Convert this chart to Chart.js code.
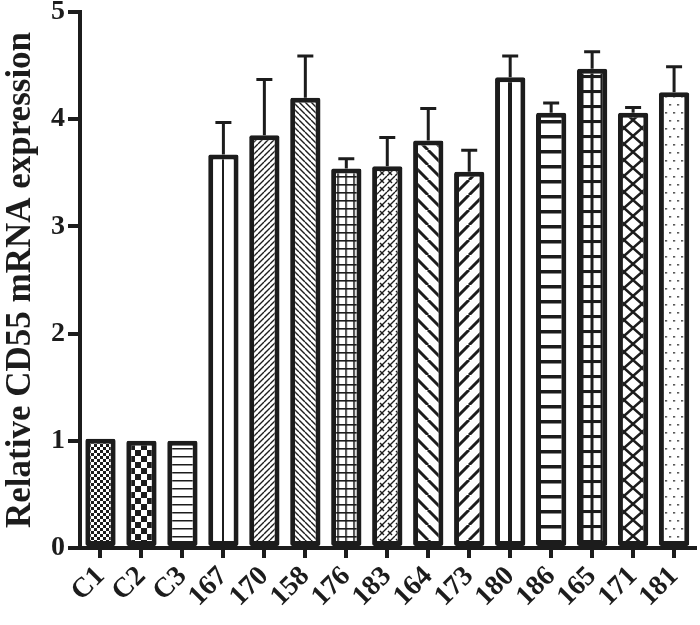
<!DOCTYPE html>
<html lang="en">
<head>
  <meta charset="UTF-8">
  <title>Relative CD55 mRNA expression</title>
  <script src="https://cdn.jsdelivr.net/npm/chart.js"></script>
  <style>
    body { margin: 0; background: #fff; }
    #wrap { width: 700px; height: 625px; }
  </style>
</head>
<body>
  <div id="wrap"><canvas id="cd55"></canvas></div>
  <script>
    // values
    const labels = ['C1', 'C2', 'C3', '167', '170', '158', '176', '183', '164', '173', '180', '186', '165', '171', '181'];
    const expression = [1.02, 1.0, 1.0, 3.67, 3.85, 4.20, 3.54, 3.56, 3.80, 3.51, 4.39, 4.06, 4.47, 4.06, 4.25];
    const sdUp = [0, 0, 0, 0.30, 0.52, 0.39, 0.09, 0.27, 0.30, 0.20, 0.20, 0.09, 0.16, 0.05, 0.24];
    const yTicks = [0, 1, 2, 3, 4, 5];

    const INK = '#1c1c1c';
    const serif = "'Liberation Serif', 'Times New Roman', serif";

    // small tiles for the hatch fills
    function tile(w, h, draw) {
      const c = document.createElement('canvas');
      c.width = w; c.height = h;
      const g = c.getContext('2d');
      g.fillStyle = '#fff';
      g.fillRect(0, 0, w, h);
      g.fillStyle = INK;
      g.strokeStyle = INK;
      draw(g, w, h);
      return g.createPattern(c, 'repeat');
    }
    function diag(g, w, h, lw, dir) {
      g.lineWidth = lw;
      g.beginPath();
      for (let k = -1; k <= 1; k++) {
        if (dir > 0) { g.moveTo(k * w, h); g.lineTo(k * w + w, 0); }
        else { g.moveTo(k * w, 0); g.lineTo(k * w + w, h); }
      }
      g.stroke();
    }

    const patterns = [
      tile(6, 6, g => { g.fillRect(0, 0, 3, 3); g.fillRect(3, 3, 3, 3); }),
      tile(12, 12, g => { g.fillRect(0, 0, 6, 6); g.fillRect(6, 6, 6, 6); }),
      tile(4, 8, g => { g.fillRect(0, 0, 4, 1.5); }),
      tile(60, 4, g => { g.fillRect(0, 0, 2, 4); }),
      tile(6, 6, (g, w, h) => diag(g, w, h, 1.4, 1)),
      tile(6, 6, (g, w, h) => diag(g, w, h, 1.4, -1)),
      tile(8, 8, g => { g.fillRect(0, 0, 1.6, 8); g.fillRect(0, 0, 8, 1.6); }),
      tile(8, 8, (g, w, h) => {
        diag(g, w, h, 1.4, 1);
        g.lineWidth = 1.4;
        g.beginPath(); g.moveTo(1, 3); g.lineTo(5, 7); g.stroke();
      }),
      tile(15, 15, (g, w, h) => diag(g, w, h, 3, -1)),
      tile(15, 15, (g, w, h) => diag(g, w, h, 3, 1)),
      tile(60, 4, g => { g.fillRect(0, 0, 4, 4); }),
      tile(4, 15, g => { g.fillRect(0, 0, 4, 3.5); }),
      tile(10, 15, g => { g.fillRect(0, 0, 3, 15); g.fillRect(0, 0, 10, 3); }),
      tile(18, 16, (g, w, h) => {
        g.lineWidth = 2.5;
        g.beginPath();
        g.moveTo(0, 0); g.lineTo(w, h);
        g.moveTo(w, 0); g.lineTo(0, h);
        g.stroke();
      }),
      tile(8, 16, g => { g.fillRect(0, 0, 1.6, 1.6); g.fillRect(4, 8, 1.6, 1.6); })
    ];
    // horizontal offset of each tile's reference line relative to bar centre
    const patternShift = [0, 0, 0, -1, 0, 0, -0.8, 0, 0, 0, -2, 0, -1.5, -9, -0.8];

    const alignPatterns = {
      id: 'alignPatterns',
      beforeDatasetsDraw(chart) {
        const meta = chart.getDatasetMeta(0);
        meta.data.forEach((bar, i) => {
          const m = new DOMMatrix([1, 0, 0, 1, Math.round(bar.x) + patternShift[i], 0]);
          patterns[i].setTransform(m);
        });
      }
    };

    const errorBars = {
      id: 'errorBars',
      afterDatasetsDraw(chart) {
        const { ctx } = chart;
        const y = chart.scales.y;
        const meta = chart.getDatasetMeta(0);
        ctx.save();
        ctx.strokeStyle = INK;
        ctx.lineWidth = 3;
        ctx.lineCap = 'butt';
        meta.data.forEach((bar, i) => {
          if (!sdUp[i]) return;
          const yb = y.getPixelForValue(expression[i]);
          const yt = y.getPixelForValue(expression[i] + sdUp[i]);
          ctx.beginPath();
          ctx.moveTo(bar.x, yb);
          ctx.lineTo(bar.x, yt);
          ctx.moveTo(bar.x - 8, yt);
          ctx.lineTo(bar.x + 8, yt);
          ctx.stroke();
        });
        ctx.restore();
      }
    };

    new Chart(document.getElementById('cd55'), {
      type: 'bar',
      data: {
        labels: labels,
        datasets: [{
          data: expression,
          backgroundColor: patterns,
          borderColor: INK,
          borderWidth: 5,
          borderSkipped: false,
          borderRadius: 2,
          barPercentage: 0.74,
          categoryPercentage: 1
        }]
      },
      options: {
        responsive: true,
        maintainAspectRatio: false,
        animation: false,
        layout: { padding: { top: 0, right: 5, left: 0, bottom: 0 } },
        plugins: {
          legend: { display: false },
          tooltip: { enabled: false }
        },
        scales: {
          x: {
            grid: { offset: false, drawOnChartArea: false, drawTicks: true, tickLength: 10, lineWidth: 4, color: INK },
            border: { display: true, width: 4, color: INK },
            ticks: {
              color: INK,
              font: { family: serif, size: 28, weight: 'bold' },
              autoSkip: false,
              minRotation: 45,
              maxRotation: 45,
              padding: 2
            },
            afterFit(scale) { scale.height = 77; }
          },
          y: {
            min: 0,
            max: 5,
            afterBuildTicks(scale) { scale.ticks = yTicks.map(v => ({ value: v })); },
            grid: { drawOnChartArea: false, drawTicks: true, tickLength: 12, lineWidth: 4, color: INK },
            border: { display: true, width: 4, color: INK },
            ticks: {
              color: INK,
              font: { family: serif, size: 28, weight: 'bold', lineHeight: 0.64 },
              padding: 3
            },
            title: {
              display: true,
              text: 'Relative CD55 mRNA expression',
              color: INK,
              font: { family: serif, size: 35, weight: 'bold' },
              padding: { top: 0, bottom: 0 }
            },
            afterFit(scale) { scale.width = 80; }
          }
        }
      },
      plugins: [alignPatterns, errorBars]
    });
  </script>
</body>
</html>
